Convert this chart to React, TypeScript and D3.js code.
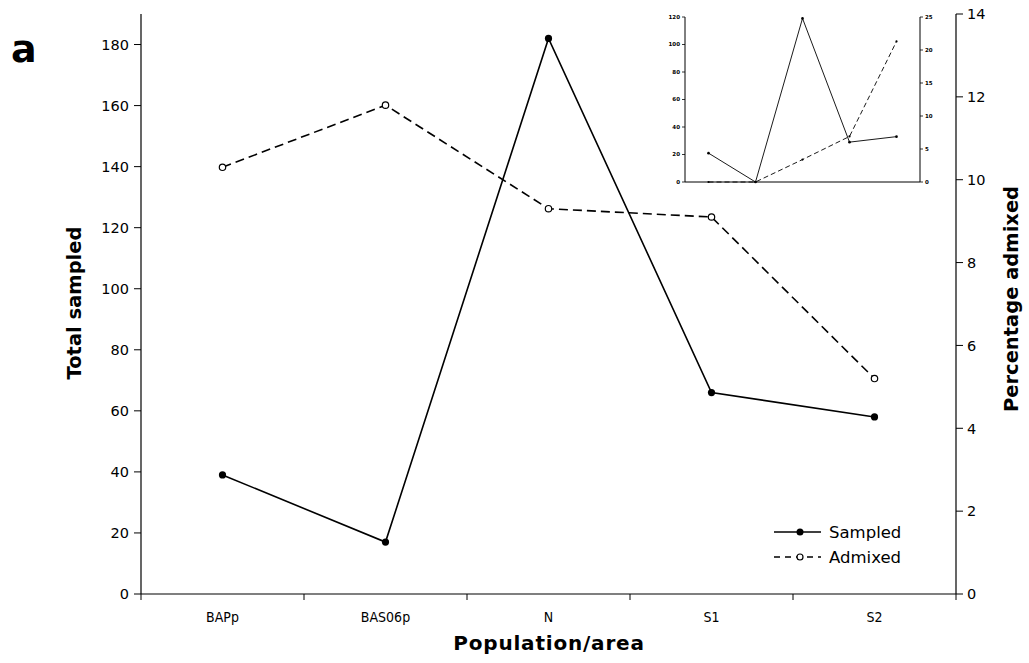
import React from "react";
import * as d3 from "d3";

const categories = ["BAPp", "BAS06p", "N", "S1", "S2"];
const sampled = [39, 17, 182, 66, 58];
const admixed = [10.3, 11.8, 9.3, 9.1, 5.2];
const leftTicks = [0, 20, 40, 60, 80, 100, 120, 140, 160, 180];
const rightTicks = [0, 2, 4, 6, 8, 10, 12, 14];

const insetSampled = [21, 0, 119, 29, 33];
const insetAdmixed = [0, 0, 3.4, 6.9, 21.3];
const insetLeftTicks = [0, 20, 40, 60, 80, 100, 120];
const insetRightTicks = [0, 5, 10, 15, 20, 25];

const FONT = "'DejaVu Sans', Verdana, sans-serif";
const COND = "'DejaVu Sans Condensed', 'DejaVu Sans', sans-serif";

export default function App() {
  const W = 1029, H = 663;
  const x0 = 141, x1 = 956, yTop = 14, yBot = 594;
  const x = d3.scaleBand().domain(categories).range([x0, x1]);
  const yL = d3.scaleLinear().domain([0, 190]).range([yBot, yTop]);
  const yR = d3.scaleLinear().domain([0, 14]).range([yBot, yTop]);
  const cx = (c: string) => (x(c) as number) + x.bandwidth() / 2;

  const lineS = d3.line<number>().x((_, i) => cx(categories[i])).y((d) => yL(d));
  const lineA = d3.line<number>().x((_, i) => cx(categories[i])).y((d) => yR(d));

  // inset
  const ix0 = 685, ix1 = 920, iyTop = 17, iyBot = 182;
  const ixs = d3.scaleBand().domain(categories).range([ix0, ix1]);
  const iyL = d3.scaleLinear().domain([0, 120]).range([iyBot, iyTop]);
  const iyR = d3.scaleLinear().domain([0, 25]).range([iyBot, iyTop]);
  const icx = (c: string) => (ixs(c) as number) + ixs.bandwidth() / 2;
  const ilineS = d3.line<number>().x((_, i) => icx(categories[i])).y((d) => iyL(d));
  const ilineA = d3.line<number>().x((_, i) => icx(categories[i])).y((d) => iyR(d));

  const bandEdges = categories.map((c) => x(c) as number).concat([x1]);

  return (
    <svg width={W} height={H} style={{ position: "absolute", left: 0, top: 0, background: "#fff" }}>
      <text x={11} y={62} fontFamily={FONT} fontWeight="bold" fontSize={38}>a</text>

      {/* axes */}
      <line x1={x0} y1={yTop} x2={x0} y2={yBot} stroke="#000" strokeWidth={1.2} />
      <line x1={x1} y1={yTop} x2={x1} y2={yBot} stroke="#000" strokeWidth={1.2} />
      <line x1={x0} y1={yBot} x2={x1} y2={yBot} stroke="#000" strokeWidth={1.2} />

      {leftTicks.map((t) => (
        <g key={"l" + t}>
          <line x1={x0 - 7} x2={x0} y1={yL(t)} y2={yL(t)} stroke="#000" />
          <text x={x0 - 12} y={yL(t)} dy="0.36em" textAnchor="end" fontFamily={FONT} fontSize={14.5}>{t}</text>
        </g>
      ))}
      {rightTicks.map((t) => (
        <g key={"r" + t}>
          <line x1={x1} x2={x1 + 7} y1={yR(t)} y2={yR(t)} stroke="#000" />
          <text x={x1 + 11} y={yR(t)} dy="0.36em" textAnchor="start" fontFamily={FONT} fontSize={14.5}>{t}</text>
        </g>
      ))}
      {bandEdges.map((e, i) => (
        <line key={"b" + i} x1={e} x2={e} y1={yBot} y2={yBot + 6} stroke="#000" />
      ))}
      {categories.map((c) => (
        <text key={c} x={cx(c)} y={622} textAnchor="middle" fontFamily={COND} fontSize={14}>{c}</text>
      ))}

      <text transform={`translate(81,${303}) rotate(-90)`} textAnchor="middle" fontFamily={FONT} fontWeight="bold" fontSize={19.5}>Total sampled</text>
      <text transform={`translate(1018,${299}) rotate(-90)`} textAnchor="middle" fontFamily={FONT} fontWeight="bold" fontSize={19.5}>Percentage admixed</text>
      <text x={549} y={650} textAnchor="middle" fontFamily={FONT} fontWeight="bold" fontSize={20} letterSpacing={0.8}>Population/area</text>

      {/* series */}
      <path d={lineA(admixed) as string} fill="none" stroke="#000" strokeWidth={1.6} strokeDasharray="9,5" />
      <path d={lineS(sampled) as string} fill="none" stroke="#000" strokeWidth={1.6} />
      {sampled.map((v, i) => (
        <circle key={"s" + i} cx={cx(categories[i])} cy={yL(v)} r={3.6} fill="#000" />
      ))}
      {admixed.map((v, i) => (
        <circle key={"a" + i} cx={cx(categories[i])} cy={yR(v)} r={3.2} fill="#fff" stroke="#000" strokeWidth={1.2} />
      ))}

      {/* legend */}
      <line x1={774} x2={821} y1={532} y2={532} stroke="#000" strokeWidth={1.5} />
      <circle cx={800} cy={532} r={3.5} fill="#000" />
      <text x={829} y={532} dy="0.36em" fontFamily={FONT} fontSize={16.5}>Sampled</text>
      <line x1={774} x2={821} y1={557} y2={557} stroke="#000" strokeWidth={1.5} strokeDasharray="6,5" />
      <circle cx={800} cy={557} r={3} fill="#fff" stroke="#000" strokeWidth={1.2} />
      <text x={829} y={557} dy="0.36em" fontFamily={FONT} fontSize={16.5}>Admixed</text>

      {/* inset */}
      <line x1={ix0} y1={iyTop} x2={ix0} y2={iyBot} stroke="#000" strokeWidth={1} />
      <line x1={ix1} y1={iyTop} x2={ix1} y2={iyBot} stroke="#000" strokeWidth={1} />
      <line x1={ix0} y1={iyBot} x2={ix1} y2={iyBot} stroke="#000" strokeWidth={1} />
      {insetLeftTicks.map((t) => (
        <g key={"il" + t}>
          <line x1={ix0 - 3} x2={ix0} y1={iyL(t)} y2={iyL(t)} stroke="#000" strokeWidth={0.8} />
          <text x={ix0 - 5} y={iyL(t)} dy="0.35em" textAnchor="end" fontFamily={FONT} fontWeight="bold" fontSize={5.5}>{t}</text>
        </g>
      ))}
      {insetRightTicks.map((t) => (
        <g key={"ir" + t}>
          <line x1={ix1} x2={ix1 + 3} y1={iyR(t)} y2={iyR(t)} stroke="#000" strokeWidth={0.8} />
          <text x={ix1 + 5} y={iyR(t)} dy="0.35em" textAnchor="start" fontFamily={FONT} fontWeight="bold" fontSize={5.5}>{t}</text>
        </g>
      ))}
      <path d={ilineA(insetAdmixed) as string} fill="none" stroke="#000" strokeWidth={0.9} strokeDasharray="5,3" />
      <path d={ilineS(insetSampled) as string} fill="none" stroke="#000" strokeWidth={0.9} />
      {insetSampled.map((v, i) => (
        <circle key={"is" + i} cx={icx(categories[i])} cy={iyL(v)} r={1.3} fill="#000" />
      ))}
      {insetAdmixed.map((v, i) => (
        <circle key={"ia" + i} cx={icx(categories[i])} cy={iyR(v)} r={1.1} fill="#000" />
      ))}
    </svg>
  );
}
